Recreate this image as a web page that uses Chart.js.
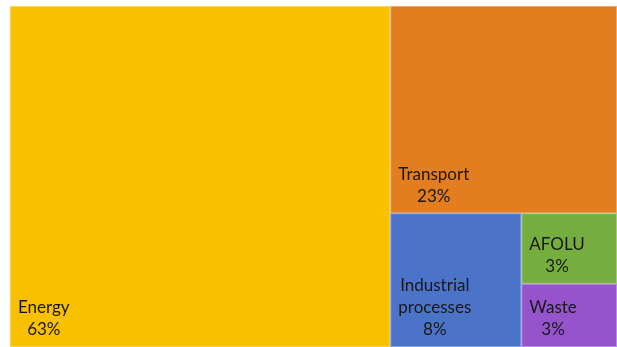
<!DOCTYPE html>
<html><head><meta charset="utf-8">
<script src="https://cdn.jsdelivr.net/npm/chart.js@4/dist/chart.umd.min.js"></script>
<style>html,body{margin:0;padding:0;background:#fff;}#wrap{width:617px;height:347px;position:relative;}</style>
</head><body><div id="wrap"><canvas id="c"></canvas></div>
<script>
const categories = ['Energy', 'Transport', 'Industrial processes', 'AFOLU', 'Waste'];
const labelLines = [['Energy'], ['Transport'], ['Industrial', 'processes'], ['AFOLU'], ['Waste']];
const values = [62.65, 22.7, 8.47, 3.26, 2.92];
const percentLabels = ['63%', '23%', '8%', '3%', '3%'];
const colors = ['#F9C000', '#E37E20', '#4B74C9', '#75AD3F', '#9654CC'];

function worst(row, side) {
  const s = row.reduce((a, b) => a + b, 0);
  const mx = Math.max(...row), mn = Math.min(...row);
  return Math.max(side * side * mx / (s * s), (s * s) / (side * side * mn));
}
function squarify(vals, W, H) {
  const total = vals.reduce((a, b) => a + b, 0);
  const areas = vals.map(v => v * W * H / total);
  const rects = [];
  let x = 0, y = 0, w = W, h = H, i = 0;
  while (i < areas.length) {
    const side = Math.min(w, h);
    const row = [areas[i]]; let j = i + 1;
    while (j < areas.length && worst(row.concat(areas[j]), side) <= worst(row, side)) { row.push(areas[j]); j++; }
    const s = row.reduce((a, b) => a + b, 0);
    if (w >= h) {
      const rw = s / h; let cy = y;
      row.forEach(a => { const rh = a / rw; rects.push({x: x, y: cy, w: rw, h: rh}); cy += rh; });
      x += rw; w -= rw;
    } else {
      const rh = s / w; let cx = x;
      row.forEach(a => { const rw = a / rh; rects.push({x: cx, y: y, w: rw, h: rh}); cx += rw; });
      y += rh; h -= rh;
    }
    i = j;
  }
  return rects.map(r => ({x0: r.x / W, y0: r.y / H, x1: (r.x + r.w) / W, y1: (r.y + r.h) / H}));
}

const treemapPlugin = {
  id: 'treemap',
  beforeDatasetsDraw(chart) {
    const ca = chart.chartArea;
    const xs = chart.scales.x, ys = chart.scales.y;
    const rects = squarify(values, ca.right - ca.left, ca.bottom - ca.top);
    const ctx = chart.ctx;
    ctx.save();
    rects.forEach((r, k) => {
      const px0 = xs.getPixelForValue(r.x0), px1 = xs.getPixelForValue(r.x1);
      const py0 = ys.getPixelForValue(r.y0), py1 = ys.getPixelForValue(r.y1);
      ctx.fillStyle = colors[k];
      ctx.fillRect(px0, py0, px1 - px0, py1 - py0);
      ctx.strokeStyle = 'rgba(255,255,255,0.35)';
      ctx.lineWidth = 1;
      ctx.strokeRect(px0 + 0.5, py0 + 0.5, px1 - px0 - 1, py1 - py0 - 1);
      const lines = labelLines[k].concat([percentLabels[k]]);
      ctx.font = '17px Lato';
      ctx.fillStyle = '#181818';
      ctx.textAlign = 'center';
      ctx.textBaseline = 'middle';
      const bw = Math.max(...lines.map(t => ctx.measureText(t).width));
      const cx = px0 + 8 + bw / 2;
      const lastY = py1 - 17;
      lines.forEach((t, n) => {
        ctx.fillText(t, cx, lastY - (lines.length - 1 - n) * 22);
      });
    });
    ctx.restore();
  }
};

new Chart(document.getElementById('c'), {
  type: 'scatter',
  data: { datasets: [{ label: 'Emissions', data: [], pointRadius: 0 }] },
  options: {
    responsive: true,
    maintainAspectRatio: false,
    animation: false,
    layout: { padding: { left: 10, top: 6, right: 0, bottom: 0 } },
    plugins: { legend: { display: false }, tooltip: { enabled: false } },
    scales: {
      x: { type: 'linear', min: 0, max: 1, display: false },
      y: { type: 'linear', min: 0, max: 1, reverse: true, display: false }
    }
  },
  plugins: [treemapPlugin]
});
</script>
</body></html>
